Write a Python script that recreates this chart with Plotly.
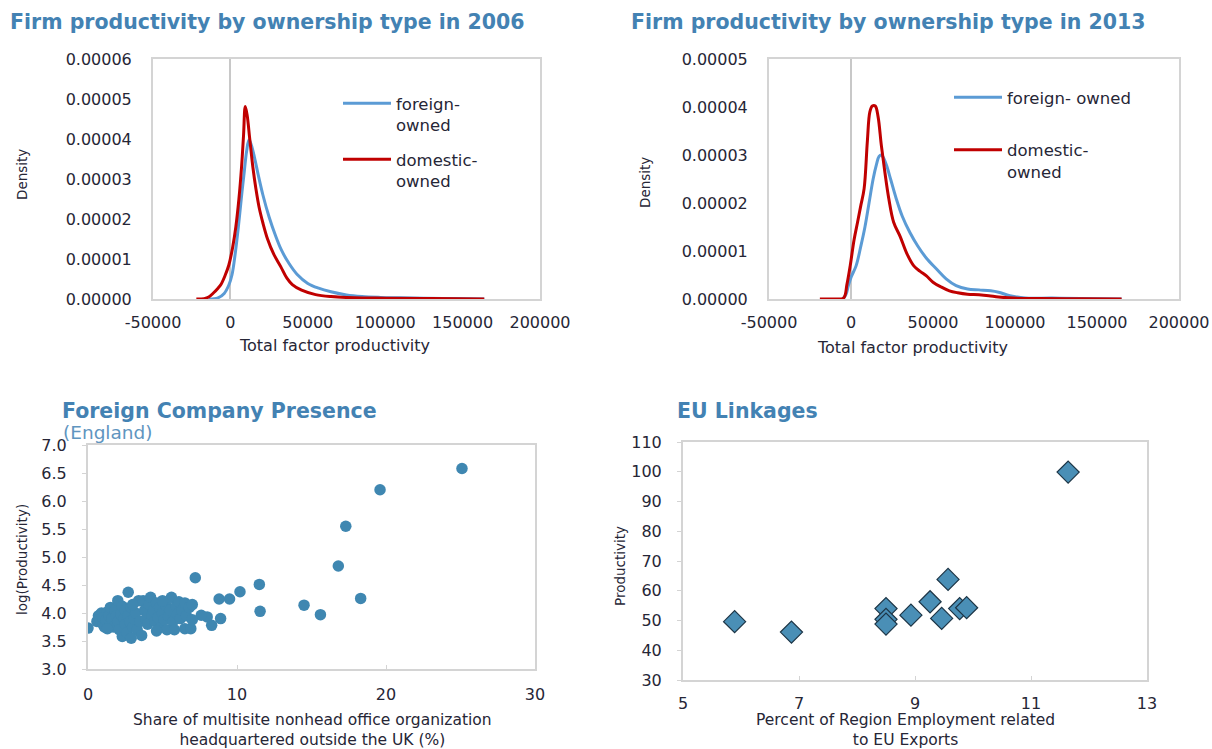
import plotly.graph_objects as go

W, H = 1212, 749

# ---------------- data ----------------
tfp_2006_foreign_x = [-14000, -8000, -4000, -1000, 1000, 3000, 5000, 7000, 9000, 10500,
                      12000, 13500, 15500, 18000, 21000, 25000, 29000, 33000, 38000, 43000,
                      50000, 57000, 65000, 75000, 85000, 97000, 110000, 125000, 145000, 164000]
density_2006_foreign_e5 = [0, 0.03, 0.14, 0.35, 0.6, 1.1, 1.75, 2.5, 3.2, 3.7,
                           3.98, 3.85, 3.55, 3.1, 2.6, 2.05, 1.6, 1.22, 0.88, 0.62,
                           0.39, 0.27, 0.18, 0.1, 0.06, 0.04, 0.03, 0.02, 0.01, 0]

tfp_2006_domestic_x = [-22000, -17000, -14000, -11000, -8000, -6000, -3500, -1000, 1500, 3500,
                       5500, 7200, 8500, 9600, 10800, 12500, 14500, 16500, 18500, 21000,
                       24000, 28000, 32500, 36500, 40000, 46000, 55000, 65000, 80000, 100000,
                       130000, 164000]
density_2006_domestic_e5 = [0, 0.01, 0.05, 0.15, 0.27, 0.37, 0.58, 0.85, 1.3, 1.8,
                            2.5, 3.3, 4.1, 4.81, 4.6, 4.0, 3.3, 2.75, 2.3, 1.9,
                            1.5, 1.12, 0.81, 0.52, 0.36, 0.22, 0.11, 0.06, 0.03, 0.02,
                            0.01, 0]

tfp_2013_foreign_x = [-5000, -3000, -1600, 0, 3100, 6000, 8500, 11000, 13500, 15500,
                      17100, 18500, 20000, 22000, 24200, 27500, 31200, 36000, 40600, 46000,
                      52300, 58000, 64100, 71100, 78000, 85200, 90000, 96900, 106300, 122700,
                      140000, 165000]
density_2013_foreign_e5 = [0, 0.1, 0.28, 0.45, 0.69, 1.1, 1.5, 2.0, 2.5, 2.8,
                           2.97, 3.0, 2.93, 2.75, 2.49, 2.1, 1.73, 1.38, 1.11, 0.85,
                           0.62, 0.42, 0.28, 0.21, 0.19, 0.17, 0.14, 0.07, 0.02, 0.02,
                           0.01, 0]

tfp_2013_domestic_x = [-19000, -10000, -4500, -2500, -500, 1900, 4000, 6000, 8000, 10000,
                       11500, 13000, 14800, 16500, 18500, 20700, 23000, 26000, 30000, 34000,
                       38300, 42000, 46000, 50000, 55000, 60000, 65000, 71000, 78000, 84000,
                       90000, 99000, 115000, 140000, 165000]
density_2013_domestic_e5 = [0, 0, 0.02, 0.3, 0.69, 1.24, 1.6, 1.95, 2.3, 3.3,
                            3.9, 4.02, 4.02, 3.8, 3.2, 2.63, 2.1, 1.6, 1.3, 0.95,
                            0.69, 0.58, 0.48, 0.35, 0.25, 0.17, 0.13, 0.1, 0.09, 0.07,
                            0.04, 0.02, 0.01, 0.005, 0]

foreign_share_pct = [25.1, 19.6, 17.3, 16.8, 18.3, 14.5, 15.6, 11.5, 11.55, 10.2,
                     9.5, 8.8, 8.9, 7.2, 8.3, 8.0, 7.6, 0.0,
                     0.6, 0.7, 0.8, 0.9, 1.0, 1.0, 1.1, 1.2, 1.3, 1.4,
                     1.5, 1.5, 1.6, 1.7, 1.8, 1.9, 2.0, 2.0, 2.1, 2.2,
                     2.3, 2.3, 2.4, 2.5, 2.5, 2.6, 2.7, 2.7, 2.8, 2.9,
                     3.0, 3.1, 3.2, 3.3, 3.5, 3.6, 3.7, 3.8, 3.9, 4.0,
                     4.1, 4.2, 4.3, 4.4, 4.5, 4.6, 4.7, 4.8, 4.9, 5.0,
                     5.1, 5.2, 5.3, 5.4, 5.5, 5.6, 5.7, 5.8, 5.9, 6.0,
                     6.1, 6.2, 6.3, 6.5, 6.5, 6.6, 6.8, 6.9, 7.0, 7.0,
                     3.4, 4.6, 2.9, 1.3, 5.0, 3.0]
log_productivity = [6.58, 6.2, 5.55, 4.84, 4.26, 4.14, 3.97, 4.51, 4.03, 4.38,
                    4.25, 4.25, 3.9, 4.63, 3.78, 3.93, 3.96, 3.73,
                    3.85, 3.95, 3.9, 4.0, 3.8, 3.92, 3.75, 3.88, 4.02, 3.95,
                    4.1, 3.82, 3.9, 3.75, 4.05, 3.95, 4.22, 3.85, 3.7, 3.98,
                    3.58, 4.12, 3.9, 3.8, 4.05, 3.65, 4.37, 3.95, 3.85, 4.1,
                    3.75, 3.9, 4.0, 3.7, 3.85, 3.6, 4.22, 4.05, 3.9, 3.8,
                    4.15, 4.28, 3.95, 4.05, 3.85, 4.18, 3.92, 4.1, 3.75, 4.0,
                    3.88, 4.15, 3.7, 3.95, 4.05, 4.28, 3.85, 3.7, 4.12, 3.98,
                    4.2, 3.9, 4.05, 3.72, 4.18, 3.95, 4.1, 3.72, 3.88, 4.15,
                    4.22, 3.68, 3.55, 3.72, 4.22, 4.15]

eu_export_employment_pct = [5.89, 6.87, 8.5, 8.5, 8.5, 8.93, 9.26, 9.46, 9.57, 9.77, 9.89, 11.64]
eu_productivity = [49.6, 46.1, 54.0, 50.4, 48.8, 51.8, 56.3, 50.7, 63.8, 54.0, 54.3, 99.9]

x_ticks_tfp = [-50000, 0, 50000, 100000, 150000, 200000]
x_ticks_tfp_text = ["-50000", "0", "50000", "100000", "150000", "200000"]

# ---------------- styling ----------------
BLUE = "#5b9bd5"
RED = "#c00000"
TITLE = "#4382b3"
TXT = "#262636"
FRAME = "#d4d4d4"
FONT = "DejaVu Sans"


def px(x):
    return x / W


def py(y):
    return 1 - y / H


fig = go.Figure()

fig.add_trace(go.Scatter(x=tfp_2006_foreign_x, y=[v * 1e-5 for v in density_2006_foreign_e5],
                         mode="lines", name="foreign-<br>owned", legendgroup="a",
                         line=dict(color=BLUE, width=3, shape="spline"),
                         xaxis="x", yaxis="y", legend="legend"))
fig.add_trace(go.Scatter(x=tfp_2006_domestic_x, y=[v * 1e-5 for v in density_2006_domestic_e5],
                         mode="lines", name="domestic-<br>owned", legendgroup="b",
                         line=dict(color=RED, width=3, shape="spline"),
                         xaxis="x", yaxis="y", legend="legend"))
fig.add_trace(go.Scatter(x=tfp_2013_foreign_x, y=[v * 1e-5 for v in density_2013_foreign_e5],
                         mode="lines", name="foreign- owned", legendgroup="c",
                         line=dict(color=BLUE, width=3, shape="spline"),
                         xaxis="x2", yaxis="y2", legend="legend2"))
fig.add_trace(go.Scatter(x=tfp_2013_domestic_x, y=[v * 1e-5 for v in density_2013_domestic_e5],
                         mode="lines", name="domestic-<br>owned", legendgroup="d",
                         line=dict(color=RED, width=3, shape="spline"),
                         xaxis="x2", yaxis="y2", legend="legend2"))
fig.add_trace(go.Scatter(x=foreign_share_pct, y=log_productivity, mode="markers",
                         marker=dict(color="#3f87b1", size=11.5, line=dict(width=0)),
                         xaxis="x3", yaxis="y3", showlegend=False))
fig.add_trace(go.Scatter(x=eu_export_employment_pct, y=eu_productivity, mode="markers",
                         marker=dict(symbol="diamond", color="#4a8fb6", size=17,
                                     line=dict(color="#1d3546", width=1.2)),
                         xaxis="x4", yaxis="y4", showlegend=False))

tickfont = dict(family=FONT, size=16, color=TXT)
common = dict(showline=True, mirror=True, linecolor=FRAME, linewidth=2, showgrid=False,
              automargin=False, tickfont=tickfont)

fig.update_layout(
    width=W, height=H, margin=dict(l=0, r=0, t=0, b=0, pad=0, autoexpand=False),
    paper_bgcolor="white", plot_bgcolor="white",
    font=dict(family=FONT, color=TXT),
    xaxis=dict(domain=[px(153), px(540)], range=[-50000, 200000], tickvals=x_ticks_tfp,
               ticktext=x_ticks_tfp_text, zeroline=True, zerolinecolor="#c8c8c8", zerolinewidth=1.5,
               ticks="", ticklabelstandoff=8, anchor="y", **common),
    yaxis=dict(domain=[py(299), py(59)], range=[0, 0.00006], dtick=0.00001, tickformat=".5f",
               ticks="", ticklabelstandoff=16, zeroline=False, anchor="x", **common),
    xaxis2=dict(domain=[px(769), px(1179)], range=[-50000, 200000], tickvals=x_ticks_tfp,
                ticktext=x_ticks_tfp_text, zeroline=True, zerolinecolor="#c8c8c8", zerolinewidth=1.5,
                ticks="", ticklabelstandoff=8, anchor="y2", **common),
    yaxis2=dict(domain=[py(299), py(59)], range=[0, 0.00005], dtick=0.00001, tickformat=".5f",
                ticks="", ticklabelstandoff=16, zeroline=False, anchor="x2", **common),
    xaxis3=dict(domain=[px(88), px(535)], range=[0, 30], dtick=10,
                ticks="inside", ticklen=4, tickcolor=FRAME, ticklabelstandoff=10,
                zeroline=False, anchor="y3", **common),
    yaxis3=dict(domain=[py(669), py(445)], range=[3.0, 7.0], dtick=0.5, tickformat=".1f",
                ticks="outside", ticklen=4, tickcolor=FRAME, ticklabelstandoff=12,
                zeroline=False, anchor="x3", **common),
    xaxis4=dict(domain=[px(683), px(1147)], range=[5, 13], tick0=5, dtick=2,
                ticks="inside", ticklen=4, tickcolor=FRAME, ticklabelstandoff=8,
                zeroline=False, anchor="y4", **common),
    yaxis4=dict(domain=[py(680), py(442)], range=[30, 110], dtick=10,
                ticks="outside", ticklen=4, tickcolor=FRAME, ticklabelstandoff=12,
                zeroline=False, anchor="x4", **common),
    legend=dict(x=px(338), y=py(86), xanchor="left", yanchor="top", valign="top",
                font=dict(family=FONT, size=16.5, color=TXT), bgcolor="rgba(0,0,0,0)",
                traceorder="grouped", tracegroupgap=10, itemwidth=48),
    legend2=dict(x=px(949), y=py(80), xanchor="left", yanchor="top", valign="top",
                 font=dict(family=FONT, size=16.5, color=TXT), bgcolor="rgba(0,0,0,0)",
                 traceorder="grouped", tracegroupgap=28, itemwidth=48),
)

annotations = [
    dict(text="<b>Firm productivity by ownership type in 2006</b>", x=px(8), y=py(22),
         font=dict(size=20.5, color=TITLE)),
    dict(text="<b>Firm productivity by ownership type in 2013</b>", x=px(629), y=py(22),
         font=dict(size=20.5, color=TITLE)),
    dict(text="<b>Foreign Company Presence</b>", x=px(60), y=py(411), font=dict(size=20.5, color=TITLE)),
    dict(text="(England)", x=px(61), y=py(432), font=dict(size=18.5, color="#5f95bf")),
    dict(text="<b>EU Linkages</b>", x=px(675), y=py(411), font=dict(size=20.5, color=TITLE)),
]
for a in annotations:
    a.update(xref="paper", yref="paper", xanchor="left", yanchor="middle", showarrow=False)

axis_titles = [
    dict(text="Density", x=px(22), y=py(175), textangle=-90, size=13.5),
    dict(text="Density", x=px(645), y=py(183), textangle=-90, size=13.5),
    dict(text="Total factor productivity", x=px(334), y=py(345), size=16),
    dict(text="Total factor productivity", x=px(912), y=py(347), size=16),
    dict(text="log(Productivity)", x=px(22), y=py(560), textangle=-90, size=13.5),
    dict(text="Share of multisite nonhead office organization<br>headquartered outside the UK (%)",
         x=px(312), y=py(730), size=15.5),
    dict(text="Productivity", x=px(620), y=py(566), textangle=-90, size=13.5),
    dict(text="Percent of Region Employment related<br>to EU Exports", x=px(905), y=py(730), size=15.5),
]
for a in axis_titles:
    size = a.pop("size")
    a.update(xref="paper", yref="paper", xanchor="center", yanchor="middle", showarrow=False,
             font=dict(family=FONT, size=size, color=TXT))

fig.update_layout(annotations=annotations + axis_titles)

fig.write_html("out.html")
